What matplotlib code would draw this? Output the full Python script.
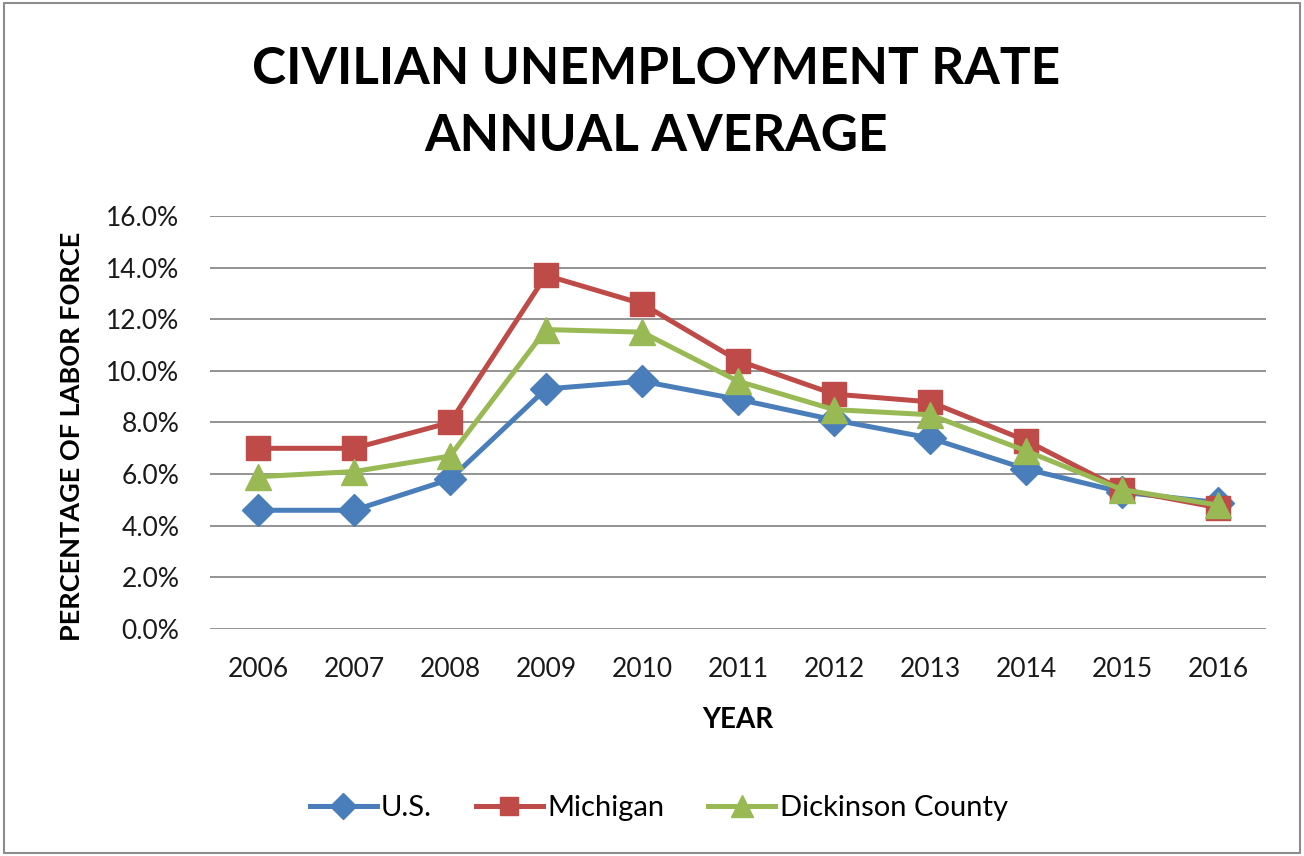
import matplotlib
matplotlib.use("Agg")
import matplotlib.pyplot as plt
from matplotlib.patches import Rectangle

years = ["2006", "2007", "2008", "2009", "2010", "2011", "2012", "2013", "2014", "2015", "2016"]
us = [4.6, 4.6, 5.8, 9.3, 9.6, 8.9, 8.1, 7.4, 6.2, 5.3, 4.9]
michigan = [7.0, 7.0, 8.0, 13.7, 12.6, 10.4, 9.1, 8.8, 7.3, 5.4, 4.7]
dickinson = [5.9, 6.1, 6.7, 11.6, 11.5, 9.6, 8.5, 8.3, 6.9, 5.4, 4.8]
yticks = [0, 2, 4, 6, 8, 10, 12, 14, 16]

plt.rcParams['font.family'] = ['Lato', 'DejaVu Sans']

fig = plt.figure(figsize=(13.04, 8.56), dpi=100)
fig.patches.append(Rectangle((0.003, 0.003), 0.994, 0.994, transform=fig.transFigure,
                             fill=False, edgecolor='#8c8c8c', linewidth=1.5))

ax = fig.add_axes([210 / 1304, 1 - 629 / 856, 1056 / 1304, 413 / 856])
x = list(range(len(years)))

series = [
    (us, "U.S.", "#4A7EBB", "D", 16),
    (michigan, "Michigan", "#BE4B48", "s", 17),
    (dickinson, "Dickinson County", "#98B954", "^", 19),
]
for vals, name, col, mk, ms in series:
    ax.plot(x, vals, color=col, linewidth=3.6, marker=mk, markersize=ms,
            markeredgecolor=col, label=name, solid_joinstyle='round')

ax.set_xlim(-0.5, len(years) - 0.5)
ax.set_ylim(0, 16)
ax.set_yticks(yticks)
ax.set_yticklabels([f"{v:.1f}%" for v in yticks])
ax.set_xticks(x)
ax.set_xticklabels(years)
ax.tick_params(axis='both', length=0, labelsize=19, colors='#1a1a1a')
ax.tick_params(axis='x', pad=20)
ax.tick_params(axis='y', pad=22)
ax.grid(axis='y', color='#8a8a8a', linewidth=1.3)
ax.set_axisbelow(True)
for s in ax.spines.values():
    s.set_visible(False)

ax.set_xlabel("YEAR", fontsize=20, fontweight='bold', labelpad=18)
ax.set_ylabel("PERCENTAGE OF LABOR FORCE", fontsize=19.5, fontweight='bold')
ax.yaxis.set_label_coords(-0.119, 0.467)

fig.text(0.503, 1 - 103 / 856, "CIVILIAN UNEMPLOYMENT RATE\nANNUAL AVERAGE",
         ha='center', va='center', fontsize=37, fontweight='bold', linespacing=1.52)

fig.legend(loc='center', bbox_to_anchor=(0.505, 1 - 808 / 856), ncol=3, frameon=False,
           fontsize=21, handlelength=2.3, handletextpad=0.15, columnspacing=1.5,
           markerscale=0.8)

fig.savefig("out.png", dpi=100, facecolor='white')
